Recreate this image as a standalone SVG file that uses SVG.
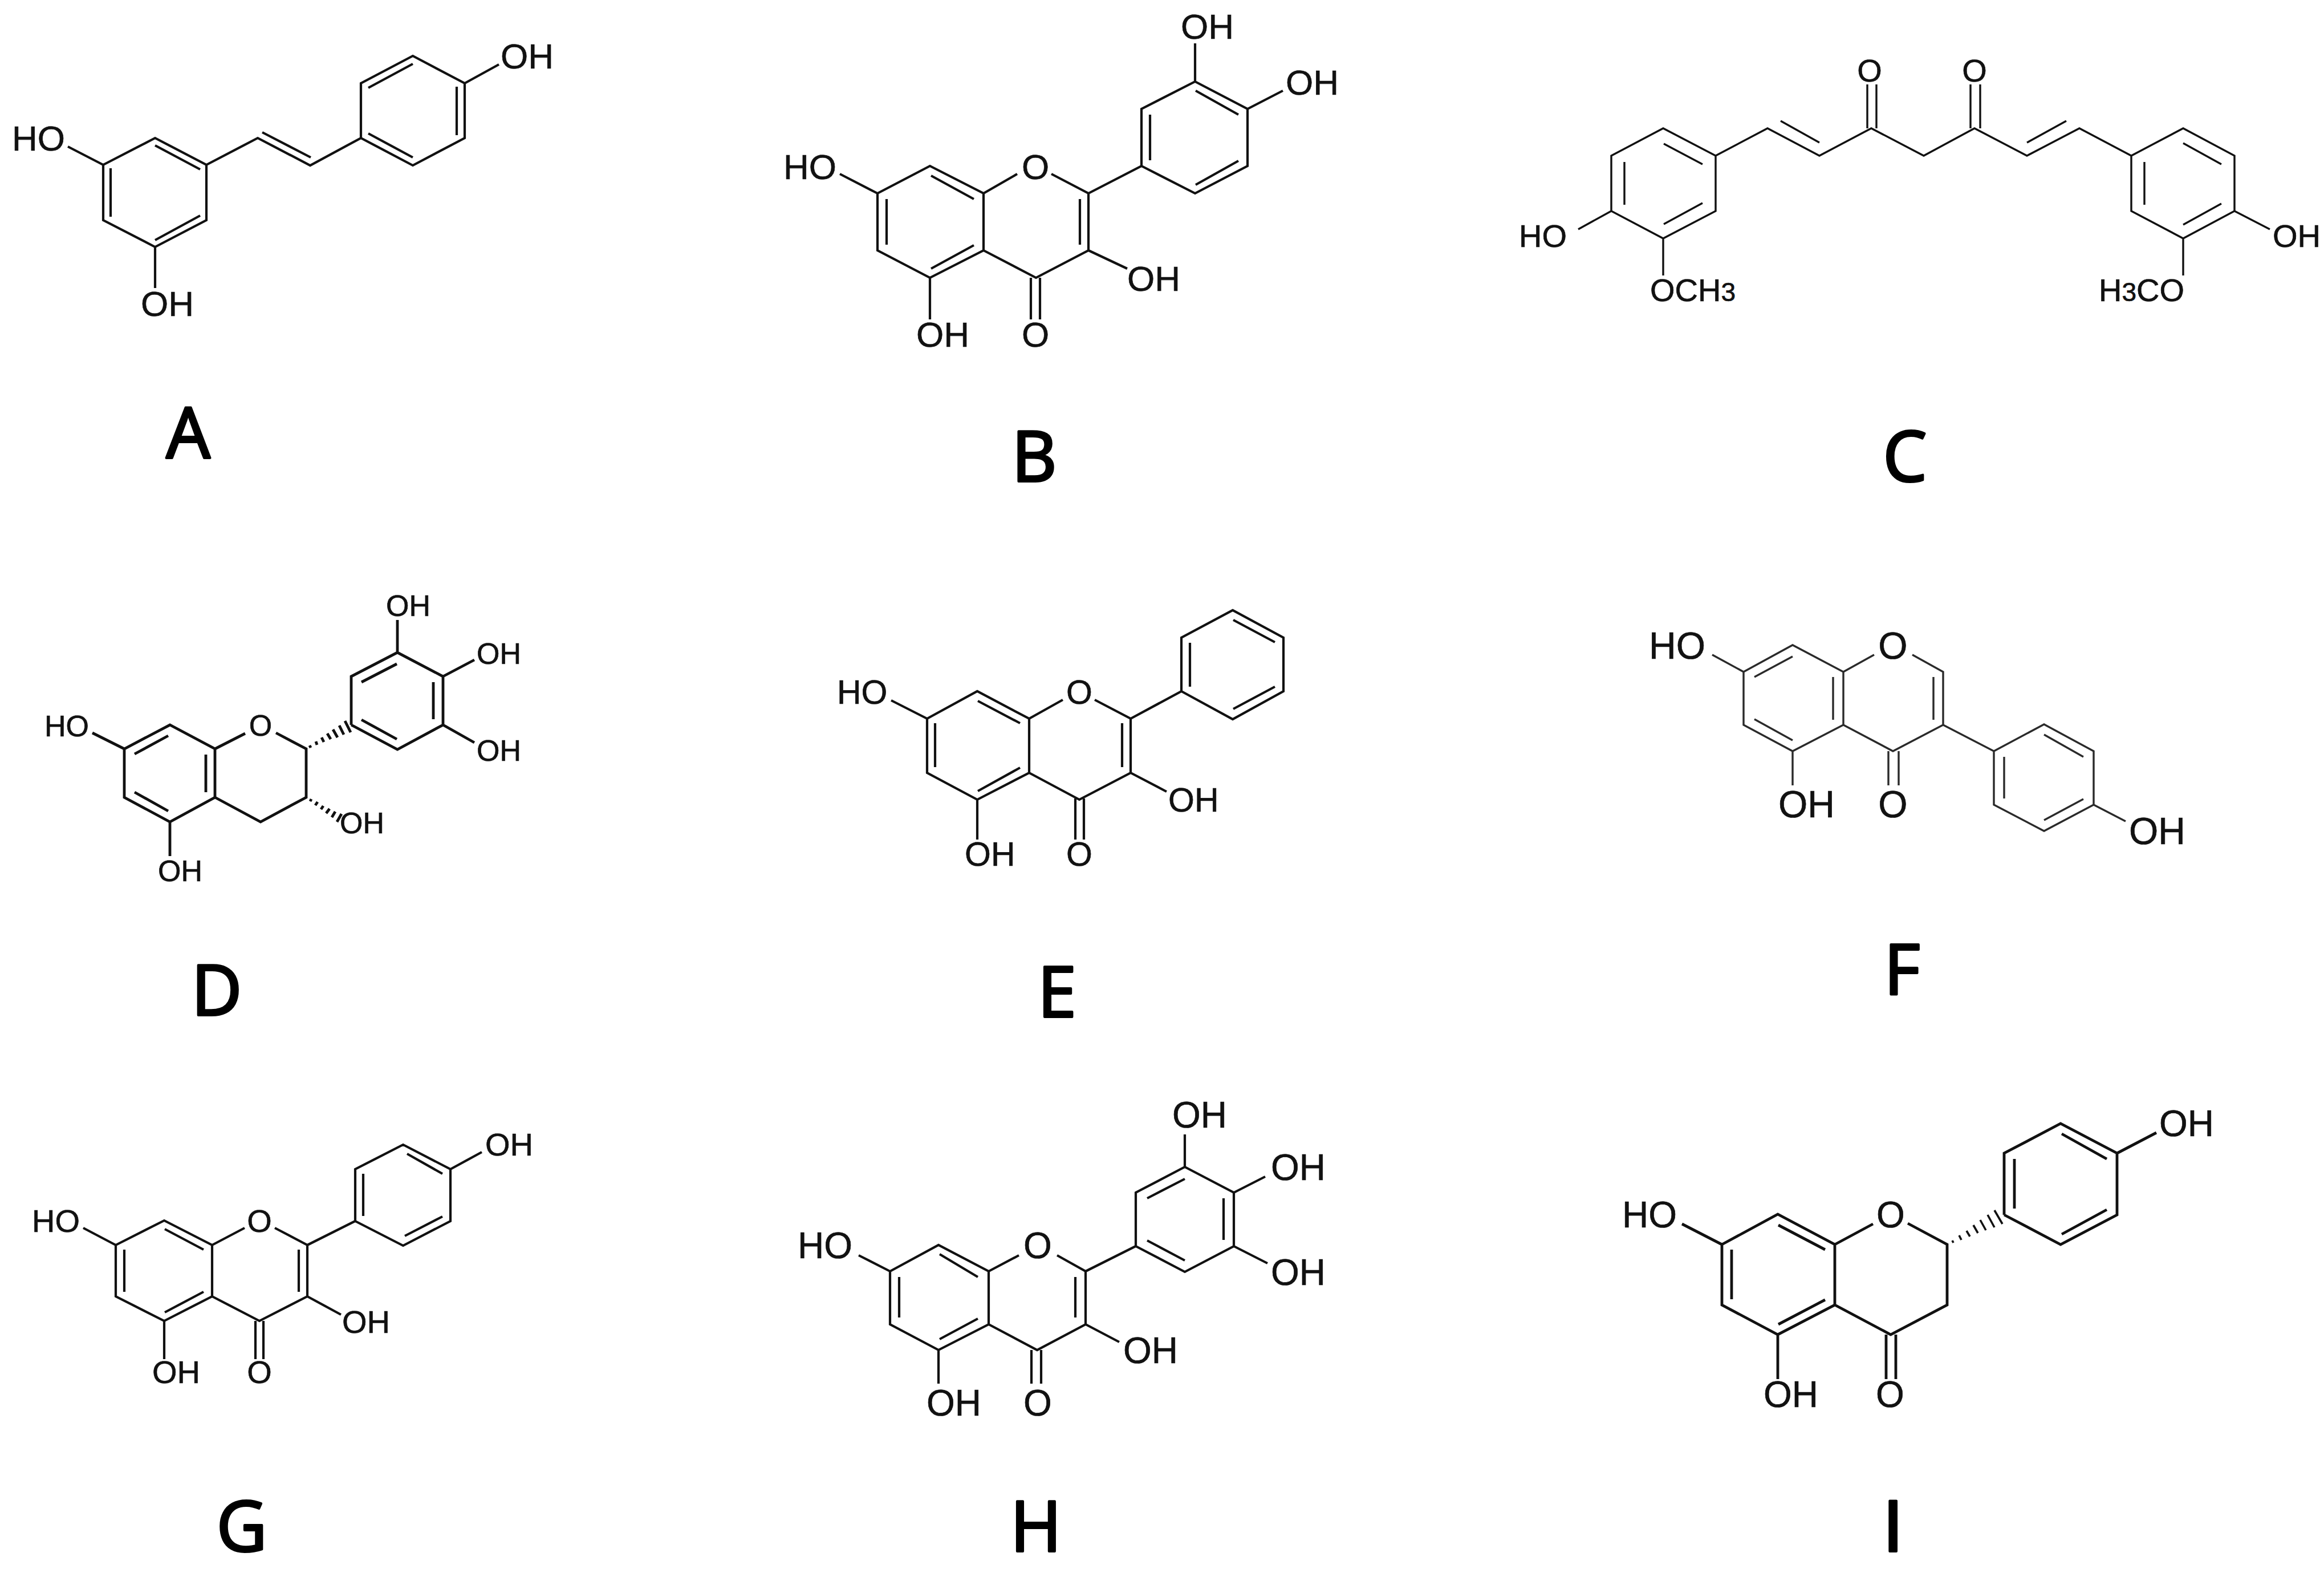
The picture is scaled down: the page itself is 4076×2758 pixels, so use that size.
<svg xmlns="http://www.w3.org/2000/svg" width="4076" height="2758" viewBox="0 0 4076 2758">
<style>
.b{fill:none;stroke:#111;stroke-width:4.2;stroke-linejoin:miter;stroke-linecap:butt}
.thin{stroke-width:3.4}
.thick{stroke-width:4.8}
.hash{stroke-width:3.6}
.grey{stroke:#2a2a2a}
text{font-family:"Liberation Sans",Arial,sans-serif;fill:#111;stroke:#111;stroke-width:.7}
.m{text-anchor:middle}
.tag{font-family:"Open Sans","Noto Sans",sans-serif;font-size:122px;font-weight:400;text-anchor:middle;fill:#000;stroke:#000;stroke-width:4;stroke-linejoin:round}
.plain{font-family:Roboto,sans-serif;font-size:124px}
.f50{font-size:52px}.f54{font-size:56px}.f57{font-size:59px}.f60{font-size:62px}.f62{font-size:64px}.f64{font-size:66px}
</style>
<rect width="4076" height="2758" fill="#fff"/>

<g id="compound-A" class="f60">
<path class="b" d="M181 289L272 242L362 289V386L272 433L181 386ZM362 289L452 242L544 290L633 242V146L724 98L815 146V242L724 290L633 242M815 146L875 113M181 289L119 257M272 433V505"/>
<path class="b" d="M272 255L351 297M194 295V380M351 378L272 421M460 232L545 276M646 154L724 112M801 152V237M646 234L724 276"/>
<text x="878" y="120">OH</text><text x="21" y="264">HO</text><text x="247" y="554">OH</text>
<text class="tag" x="330" y="803">A</text>
</g>

<g id="compound-B" class="f60">
<path class="b" d="M1539 339L1631 291L1725 339V439L1631 487L1539 439ZM1725 339L1784 305M1844 305L1909 339V439L1817 487L1725 439M1909 339L2002 291V191L2096 143L2188 191V291L2096 339L2002 291M2096 143V76M2188 191L2250 159M1539 339L1473 305M1909 439L1977 471M1631 487V560M1808 487V560M1824 487V560"/>
<path class="b" d="M1555 349V429M1633 308L1708 349M1633 471L1708 430M1894 349V429M2017 201V281M2097 159L2172 201M2172 282L2097 324"/>
<text x="2071" y="68">OH</text><text x="2255" y="166">OH</text><text x="1374" y="314">HO</text><text class="m" x="1816" y="314">O</text><text x="1977" y="510">OH</text><text x="1607" y="608">OH</text><text class="m" x="1816" y="608">O</text>
<text class="tag" x="1814" y="844">B</text>
</g>

<g id="compound-C" class="f54">
<path class="b thin" d="M2826 273L2917 225L3009 273V370L2917 418L2826 370ZM3009 273L3100 225L3191 273L3282 225L3374 273L3463 225L3555 273L3647 225L3738 273L3829 225L3919 273V370L3829 418L3738 370V273M2826 370L2768 402M3919 370L3981 402M2917 418V483M3829 418V483M3275 148V225M3291 148V225M3456 148V225M3473 148V225"/>
<path class="b thin" d="M2918 252L2986 288M2849 284V359M2986 356L2918 393M3123 212L3191 250M3624 212L3555 250M3829 251L3896 288M3761 284V359M3896 357L3829 394"/>
<text class="m" x="3279" y="143">O</text><text class="m" x="3463" y="143">O</text><text x="2664" y="433">HO</text><text x="3986" y="433">OH</text><text x="2894" y="528">OCH<tspan font-size="46">3</tspan></text><text x="3681" y="528">H<tspan font-size="46">3</tspan>CO</text>
<text class="tag" x="3341" y="844">C</text>
</g>

<g id="compound-D" class="f50">
<path class="b thick" d="M218 1313L298 1271L377 1313V1398L298 1441L218 1398ZM377 1313L430 1286M484 1285L537 1313V1398L457 1441L377 1398M616 1271V1186L697 1144L777 1186V1271L697 1314L616 1271M697 1144V1087M777 1186L832 1157M777 1271L832 1302M218 1313L162 1285M298 1441V1501"/>
<path class="b thick" d="M236 1322L295 1290M361 1323V1389M236 1389L295 1422M634 1196L696 1164M760 1196V1261M634 1262L696 1296"/>
<path class="b thick" d="M543 1307L545 1311M554 1300L556 1306M564 1293L568 1301M574 1286L580 1296M584 1279L592 1293M595 1272L603 1288M605 1264L615 1284M544 1405L546 1401M553 1412L557 1406M563 1419L567 1413M572 1426L578 1418M582 1433L588 1423M591 1441L599 1427"/>
<text x="677" y="1080">OH</text><text x="836" y="1164">OH</text><text x="836" y="1334">OH</text><text x="78" y="1291">HO</text><text class="m" x="457" y="1290">O</text><text x="596" y="1461">OH</text><text x="277" y="1545">OH</text>
<text class="tag" x="380" y="1780">D</text>
</g>

<g id="compound-E" class="f57">
<path class="b" d="M1626 1260L1714 1212L1805 1260V1355L1714 1402L1626 1355ZM1805 1260L1864 1227M1920 1227L1983 1260V1355L1893 1402L1805 1355M1983 1260L2072 1212V1118L2162 1070L2251 1118V1212L2162 1261L2072 1212M1626 1260L1563 1228M1983 1355L2046 1388M1714 1402V1472M1886 1400V1472M1901 1400V1472"/>
<path class="b" d="M1640 1268V1345M1715 1229L1789 1268M1715 1387L1789 1346M1968 1268V1345M2087 1127V1204M2163 1087L2236 1126M2236 1204L2163 1243"/>
<text x="1468" y="1234">HO</text><text class="m" x="1893" y="1234">O</text><text x="2049" y="1423">OH</text><text x="1692" y="1518">OH</text><text class="m" x="1893" y="1518">O</text>
<text class="tag" x="1854" y="1783">E</text>
</g>

<g id="compound-F" class="f64">
<path class="b thin grey" d="M3058 1178L3144 1131L3233 1178V1271L3144 1317L3058 1271ZM3233 1178L3287 1148M3354 1148L3408 1178V1271L3320 1317L3233 1271M3408 1271L3497 1317V1411L3585 1457L3672 1411V1317L3585 1270L3497 1317M3058 1178L3003 1148M3144 1317V1377M3312 1317V1377M3330 1317V1377M3672 1411L3728 1440"/>
<path class="b thin grey" d="M3077 1187L3144 1151M3215 1187V1262M3077 1261L3144 1298M3391 1187V1262M3585 1288L3654 1327M3515 1327V1400M3654 1401L3585 1438"/>
<text x="2892" y="1155">HO</text><text class="m" x="3320" y="1155">O</text><text x="3119" y="1433">OH</text><text class="m" x="3320" y="1433">O</text><text x="3734" y="1480">OH</text>
<text class="tag" x="3336" y="1744">F</text>
</g>

<g id="compound-G" class="f54">
<path class="b" d="M203 2183L288 2140L372 2183V2273L288 2316L203 2273ZM372 2183L429 2153M482 2153L539 2183V2273L455 2316L372 2273M539 2183L623 2141V2050L707 2007L790 2050V2141L707 2184L623 2141M790 2050L845 2020M203 2183L146 2153M539 2273L598 2305M288 2316V2383M448 2316V2383M462 2316V2383"/>
<path class="b" d="M218 2191V2265M289 2155L357 2191M289 2301L357 2265M524 2191V2265M637 2058V2132M714 2023L776 2058M776 2133L710 2167"/>
<text x="851" y="2026">OH</text><text x="56" y="2160">HO</text><text class="m" x="455" y="2160">O</text><text x="600" y="2337">OH</text><text x="267" y="2425">OH</text><text class="m" x="455" y="2425">O</text>
<text class="tag" x="424" y="2720">G</text>
</g>

<g id="compound-H" class="f62">
<path class="b" d="M1561 2229L1646 2183L1734 2229V2322L1646 2367L1561 2322ZM1734 2229L1787 2201M1854 2201L1904 2229V2322L1819 2367L1734 2322M1904 2229L1992 2185V2091L2078 2046L2164 2091V2185L2078 2230L1992 2185M2078 2046V1989M2164 2091L2219 2063M2164 2185L2223 2215M1561 2229L1506 2201M1904 2322L1963 2353M1646 2367V2426M1809 2367V2426M1826 2367V2426"/>
<path class="b" d="M1577 2239V2310M1648 2199L1715 2239M1648 2348L1715 2312M1886 2239V2310M2012 2101L2078 2067M2146 2101V2174M2012 2175L2078 2210"/>
<text x="2056" y="1977">OH</text><text x="2229" y="2069">OH</text><text x="2229" y="2253">OH</text><text x="1399" y="2206">HO</text><text class="m" x="1820" y="2206">O</text><text x="1970" y="2390">OH</text><text x="1625" y="2482">OH</text><text class="m" x="1820" y="2482">O</text>
<text class="tag" x="1817" y="2720">H</text>
</g>

<g id="compound-I" class="f62">
<path class="b thick" d="M3020 2182L3118 2129L3218 2182V2288L3118 2340L3020 2288ZM3218 2182L3285 2146M3346 2145L3415 2182V2288L3316 2340L3218 2288M3515 2130V2022L3614 1970L3713 2022V2130L3614 2182L3515 2130M3713 2022L3782 1986M3020 2182L2950 2146M3118 2340V2418M3308 2340V2418M3325 2340V2418"/>
<path class="b thick" d="M3037 2191V2278M3119 2148L3201 2191M3119 2322L3201 2279M3533 2032V2119M3616 1988L3695 2032M3695 2121L3616 2164"/>
<path class="b hash" d="M3424 2175L3426 2179M3436 2166L3440 2174M3449 2158L3455 2168M3461 2148L3469 2162M3473 2139L3483 2157M3486 2130L3498 2152M3498 2122L3512 2146"/>
<text x="3787" y="1992">OH</text><text x="2845" y="2152">HO</text><text class="m" x="3316" y="2152">O</text><text x="3093" y="2467">OH</text><text class="m" x="3315" y="2467">O</text>
<text class="tag plain" x="3320" y="2720">I</text>
</g>
</svg>
